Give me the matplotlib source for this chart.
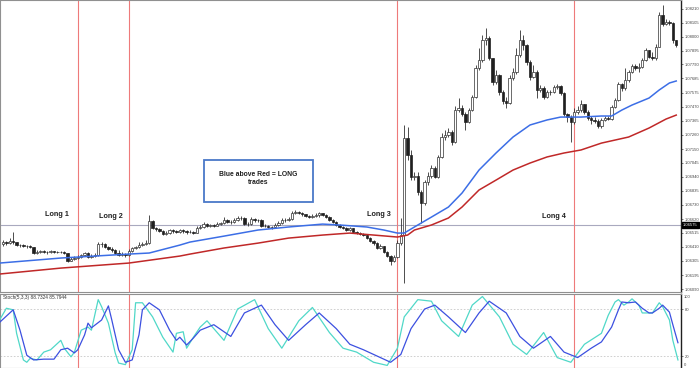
import matplotlib
matplotlib.use('Agg')
import matplotlib.pyplot as plt
from matplotlib.patches import Rectangle
import matplotlib.transforms as mtransforms

# ---------------- data ----------------
opens = [1.06431, 1.06446, 1.06438, 1.06454, 1.06446, 1.06423, 1.06423, 1.06416, 1.06416, 1.06408,
         1.06363, 1.06370, 1.06378, 1.06370, 1.06370, 1.06378, 1.06370, 1.06370, 1.06370, 1.06363,
         1.06302, 1.06317, 1.06325, 1.06333, 1.06348, 1.06363, 1.06333, 1.06340, 1.06348, 1.06431,
         1.06431, 1.06408, 1.06393, 1.06386, 1.06363, 1.06348, 1.06355, 1.06348, 1.06378, 1.06401,
         1.06408, 1.06423, 1.06431, 1.06438, 1.06605, 1.06552, 1.06544, 1.06529, 1.06507, 1.06514,
         1.06537, 1.06529, 1.06522, 1.06537, 1.06529, 1.06522, 1.06522, 1.06514, 1.06552, 1.06560,
         1.06582, 1.06567, 1.06575, 1.06567, 1.06582, 1.06590, 1.06613, 1.06597, 1.06597, 1.06613,
         1.06628, 1.06628, 1.06582, 1.06582, 1.06620, 1.06613, 1.06613, 1.06567, 1.06567, 1.06560,
         1.06560, 1.06575, 1.06590, 1.06613, 1.06613, 1.06620, 1.06666, 1.06673, 1.06666, 1.06658,
         1.06643, 1.06635, 1.06643, 1.06650, 1.06666, 1.06650, 1.06635, 1.06613, 1.06597, 1.06575,
         1.06560, 1.06552, 1.06537, 1.06552, 1.06522, 1.06514, 1.06507, 1.06499, 1.06476, 1.06454,
         1.06438, 1.06401, 1.06416, 1.06370, 1.06340, 1.06302, 1.06333, 1.06438, 1.06499, 1.07233,
         1.07105, 1.06938, 1.06946, 1.06825, 1.06741, 1.06900, 1.06946, 1.07006, 1.06938, 1.07090,
         1.07241, 1.07256, 1.07279, 1.07203, 1.07445, 1.07460, 1.07415, 1.07354, 1.07445, 1.07544,
         1.07763, 1.07824, 1.07975, 1.07990, 1.07839, 1.07657, 1.07710, 1.07582, 1.07514, 1.07498,
         1.07688, 1.07733, 1.07862, 1.07975, 1.07937, 1.07809, 1.07695, 1.07733, 1.07597, 1.07612,
         1.07544, 1.07582, 1.07582, 1.07619, 1.07627, 1.07574, 1.07415, 1.07392, 1.07354, 1.07430,
         1.07445, 1.07491, 1.07430, 1.07385, 1.07370, 1.07362, 1.07324, 1.07370, 1.07385, 1.07377,
         1.07468, 1.07521, 1.07642, 1.07612, 1.07672, 1.07733, 1.07778, 1.07763, 1.07771, 1.07824,
         1.07900, 1.07847, 1.07839, 1.07922, 1.08164, 1.08096, 1.08111, 1.08104, 1.07975]

closes = [1.06446, 1.06438, 1.06454, 1.06446, 1.06423, 1.06423, 1.06416, 1.06416, 1.06408, 1.06363,
          1.06370, 1.06378, 1.06370, 1.06370, 1.06378, 1.06370, 1.06370, 1.06370, 1.06363, 1.06302,
          1.06317, 1.06325, 1.06333, 1.06348, 1.06363, 1.06333, 1.06340, 1.06348, 1.06431, 1.06431,
          1.06408, 1.06393, 1.06386, 1.06363, 1.06348, 1.06355, 1.06348, 1.06378, 1.06401, 1.06408,
          1.06423, 1.06431, 1.06438, 1.06605, 1.06552, 1.06544, 1.06529, 1.06507, 1.06514, 1.06537,
          1.06529, 1.06522, 1.06537, 1.06529, 1.06522, 1.06522, 1.06514, 1.06552, 1.06560, 1.06582,
          1.06567, 1.06575, 1.06567, 1.06582, 1.06590, 1.06613, 1.06597, 1.06597, 1.06613, 1.06628,
          1.06628, 1.06582, 1.06582, 1.06620, 1.06613, 1.06613, 1.06567, 1.06567, 1.06560, 1.06560,
          1.06575, 1.06590, 1.06613, 1.06613, 1.06620, 1.06666, 1.06673, 1.06666, 1.06658, 1.06643,
          1.06635, 1.06643, 1.06650, 1.06666, 1.06650, 1.06635, 1.06613, 1.06597, 1.06575, 1.06560,
          1.06552, 1.06537, 1.06552, 1.06522, 1.06514, 1.06507, 1.06499, 1.06476, 1.06454, 1.06438,
          1.06401, 1.06416, 1.06370, 1.06340, 1.06302, 1.06333, 1.06438, 1.06499, 1.07233, 1.07105,
          1.06938, 1.06946, 1.06825, 1.06741, 1.06900, 1.06946, 1.07006, 1.06938, 1.07090, 1.07241,
          1.07256, 1.07279, 1.07203, 1.07445, 1.07460, 1.07415, 1.07354, 1.07445, 1.07544, 1.07763,
          1.07824, 1.07975, 1.07990, 1.07839, 1.07657, 1.07710, 1.07582, 1.07514, 1.07498, 1.07688,
          1.07733, 1.07862, 1.07975, 1.07937, 1.07809, 1.07695, 1.07733, 1.07597, 1.07612, 1.07544,
          1.07582, 1.07582, 1.07619, 1.07627, 1.07574, 1.07415, 1.07392, 1.07354, 1.07430, 1.07445,
          1.07491, 1.07430, 1.07385, 1.07370, 1.07362, 1.07324, 1.07370, 1.07385, 1.07377, 1.07468,
          1.07521, 1.07642, 1.07612, 1.07672, 1.07733, 1.07778, 1.07763, 1.07771, 1.07824, 1.07900,
          1.07847, 1.07839, 1.07922, 1.08164, 1.08096, 1.08111, 1.08104, 1.07975, 1.07937]

highs = [1.06461, 1.06454, 1.06476, 1.06522, 1.06446, 1.06431, 1.06431, 1.06423, 1.06423, 1.06408,
         1.06386, 1.06386, 1.06386, 1.06378, 1.06386, 1.06378, 1.06378, 1.06378, 1.06378, 1.06363,
         1.06333, 1.06340, 1.06348, 1.06355, 1.06370, 1.06370, 1.06355, 1.06363, 1.06446, 1.06446,
         1.06438, 1.06416, 1.06408, 1.06393, 1.06386, 1.06370, 1.06363, 1.06393, 1.06408, 1.06416,
         1.06446, 1.06446, 1.06461, 1.06650, 1.06613, 1.06560, 1.06552, 1.06537, 1.06529, 1.06544,
         1.06544, 1.06537, 1.06544, 1.06544, 1.06537, 1.06537, 1.06529, 1.06567, 1.06575, 1.06597,
         1.06590, 1.06582, 1.06582, 1.06597, 1.06597, 1.06635, 1.06620, 1.06613, 1.06628, 1.06643,
         1.06643, 1.06635, 1.06597, 1.06635, 1.06628, 1.06620, 1.06620, 1.06582, 1.06575, 1.06567,
         1.06590, 1.06605, 1.06628, 1.06628, 1.06635, 1.06681, 1.06688, 1.06681, 1.06673, 1.06658,
         1.06650, 1.06658, 1.06666, 1.06673, 1.06666, 1.06658, 1.06643, 1.06620, 1.06605, 1.06582,
         1.06567, 1.06560, 1.06560, 1.06552, 1.06529, 1.06522, 1.06514, 1.06507, 1.06484, 1.06461,
         1.06446, 1.06431, 1.06416, 1.06378, 1.06348, 1.06348, 1.06461, 1.06628, 1.07332, 1.07317,
         1.07143, 1.06976, 1.06976, 1.06840, 1.06915, 1.06976, 1.07029, 1.07021, 1.07105, 1.07271,
         1.07294, 1.07309, 1.07294, 1.07476, 1.07536, 1.07483, 1.07430, 1.07460, 1.07559, 1.07786,
         1.07915, 1.08013, 1.08066, 1.08005, 1.07839, 1.07748, 1.07718, 1.07597, 1.07544, 1.07710,
         1.07763, 1.07915, 1.08051, 1.08013, 1.07945, 1.07824, 1.07786, 1.07748, 1.07635, 1.07627,
         1.07597, 1.07597, 1.07635, 1.07642, 1.07635, 1.07582, 1.07423, 1.07407, 1.07460, 1.07476,
         1.07521, 1.07491, 1.07445, 1.07400, 1.07392, 1.07377, 1.07385, 1.07400, 1.07400, 1.07483,
         1.07536, 1.07657, 1.07650, 1.07763, 1.07748, 1.07794, 1.07794, 1.07801, 1.07839, 1.07915,
         1.07900, 1.07884, 1.07945, 1.08187, 1.08240, 1.08134, 1.08127, 1.08111, 1.07975]

lows = [1.06416, 1.06423, 1.06431, 1.06431, 1.06416, 1.06408, 1.06408, 1.06401, 1.06401, 1.06355,
        1.06355, 1.06363, 1.06363, 1.06355, 1.06363, 1.06363, 1.06363, 1.06363, 1.06355, 1.06295,
        1.06302, 1.06310, 1.06317, 1.06325, 1.06340, 1.06325, 1.06325, 1.06333, 1.06340, 1.06408,
        1.06401, 1.06386, 1.06370, 1.06355, 1.06340, 1.06340, 1.06333, 1.06340, 1.06370, 1.06393,
        1.06401, 1.06416, 1.06423, 1.06431, 1.06544, 1.06529, 1.06522, 1.06499, 1.06499, 1.06507,
        1.06514, 1.06514, 1.06514, 1.06514, 1.06507, 1.06514, 1.06507, 1.06514, 1.06544, 1.06552,
        1.06560, 1.06560, 1.06560, 1.06567, 1.06575, 1.06582, 1.06590, 1.06582, 1.06590, 1.06605,
        1.06613, 1.06575, 1.06567, 1.06575, 1.06597, 1.06597, 1.06560, 1.06560, 1.06552, 1.06544,
        1.06552, 1.06567, 1.06582, 1.06597, 1.06605, 1.06613, 1.06658, 1.06658, 1.06643, 1.06635,
        1.06628, 1.06628, 1.06635, 1.06635, 1.06643, 1.06628, 1.06605, 1.06590, 1.06567, 1.06552,
        1.06544, 1.06529, 1.06529, 1.06514, 1.06507, 1.06499, 1.06491, 1.06469, 1.06446, 1.06423,
        1.06393, 1.06393, 1.06363, 1.06333, 1.06272, 1.06295, 1.06325, 1.06423, 1.06136, 1.07067,
        1.06915, 1.06915, 1.06802, 1.06590, 1.06726, 1.06878, 1.06931, 1.06931, 1.06931, 1.07082,
        1.07218, 1.07241, 1.07180, 1.07195, 1.07430, 1.07400, 1.07294, 1.07347, 1.07438, 1.07536,
        1.07748, 1.07809, 1.07937, 1.07824, 1.07635, 1.07642, 1.07559, 1.07491, 1.07460, 1.07491,
        1.07672, 1.07718, 1.07847, 1.07900, 1.07786, 1.07672, 1.07688, 1.07536, 1.07582, 1.07529,
        1.07536, 1.07559, 1.07574, 1.07604, 1.07559, 1.07400, 1.07354, 1.07203, 1.07339, 1.07415,
        1.07430, 1.07415, 1.07370, 1.07339, 1.07347, 1.07309, 1.07309, 1.07362, 1.07370, 1.07370,
        1.07460, 1.07514, 1.07589, 1.07597, 1.07657, 1.07725, 1.07748, 1.07733, 1.07763, 1.07816,
        1.07839, 1.07824, 1.07824, 1.07922, 1.08081, 1.08089, 1.08089, 1.07952, 1.07922]

# moving averages (bar index, price)
ma_fast_idx = [-1, 17, 37, 43, 52, 55, 65, 75, 84, 94, 99, 107, 112, 116, 118, 121, 126, 131, 135,
               140, 145, 150, 155, 160, 164, 170, 176, 179, 182, 185, 190, 193, 196, 198]
ma_fast = [1.06287, 1.06325, 1.06355, 1.06363, 1.06423, 1.06446, 1.06491, 1.06537, 1.06560, 1.06582,
           1.06575, 1.06560, 1.06537, 1.06514, 1.06514, 1.06560, 1.06635, 1.06711, 1.06817, 1.06991,
           1.07120, 1.07241, 1.07332, 1.07370, 1.07392, 1.07392, 1.07400, 1.07400, 1.07445, 1.07483,
           1.07536, 1.07597, 1.07650, 1.07665]
ma_slow_idx = [-1, 17, 37, 52, 55, 65, 75, 84, 94, 102, 109, 116, 119, 121, 126, 131, 135, 140, 145,
               150, 155, 160, 165, 170, 176, 184, 190, 195, 198]
ma_slow = [1.06204, 1.06249, 1.06287, 1.06340, 1.06355, 1.06401, 1.06438, 1.06476, 1.06499, 1.06514,
           1.06499, 1.06484, 1.06499, 1.06537, 1.06575, 1.06628, 1.06711, 1.06840, 1.06915, 1.06991,
           1.07044, 1.07090, 1.07120, 1.07143, 1.07195, 1.07241, 1.07309, 1.07377, 1.07407]

# stochastic (bar index, value)
stoch_main_idx = [-1, 3, 5, 7, 9, 12, 15, 17, 19, 21, 22, 24, 25, 26, 29, 31, 32, 34, 36, 38, 40, 41,
                  43, 46, 49, 51, 52, 54, 56, 58,
                  62, 67, 71, 76, 80, 84, 89, 93, 98, 102, 106, 111, 114, 117, 120, 124, 127, 131,
                  136, 140, 143, 148, 152, 156, 161, 165, 169, 173,
                  176, 179, 181, 182, 184, 186, 188, 190, 191, 193, 194, 196, 197, 198.5]
stoch_main = [63, 79, 53, 21, 15, 16, 16, 28, 30, 24, 28, 47, 62, 56, 66, 84, 66, 28, 12, 15, 47, 79,
              88, 79, 53, 40, 44, 34, 43, 53,
              60, 45, 75, 85, 60, 40, 60, 75, 55, 35, 28, 18, 12, 22, 55, 80, 85, 70,
              50, 75, 90, 75, 45, 30, 45, 25, 18, 30,
              38, 57, 79, 89, 88, 89, 81, 75, 75, 81, 85, 76, 60, 37]
stoch_signal_idx = [-1, 1, 3, 4, 6, 7, 8, 10, 12, 14, 17, 18, 20, 21, 23, 25, 26, 28, 29, 31, 33, 34,
                    36, 38, 39, 41, 44, 47, 50, 51, 53, 54, 56, 58,
                    60, 65, 69, 74, 78, 82, 87, 91, 96, 100, 104, 109, 113, 116, 118, 122, 126, 129,
                    134, 138, 141, 146, 150, 154, 159, 163, 167, 171,
                    176, 178, 180, 181, 182.6, 184, 185, 187, 188, 189, 191, 193, 194, 196, 197, 198.5]
stoch_signal = [66, 81, 79, 49, 15, 12, 17, 15, 25, 28, 40, 30, 19, 25, 53, 57, 53, 92, 83, 62, 24, 11,
                9, 28, 88, 88, 70, 44, 25, 49, 51, 30, 44, 57,
                65, 40, 80, 92, 55, 30, 65, 82, 50, 30, 25, 12, 8, 30, 70, 92, 90, 65,
                45, 85, 96, 70, 35, 22, 50, 18, 12, 35,
                49, 72, 89, 92, 85, 89, 93, 85, 75, 75, 75, 88, 83, 66, 40, 15]

signal_bars = [22, 37, 116, 168]
signal_labels = ["Long 1", "Long 2", "Long 3", "Long 4"]
current_price = 1.06575
price_ticks = [1.08210, 1.08105, 1.08000, 1.07895, 1.07790, 1.07685, 1.07575, 1.07470, 1.07365,
               1.07260, 1.07150, 1.07045, 1.06940, 1.06835, 1.06730, 1.06620, 1.06515, 1.06410,
               1.06305, 1.06195, 1.06090]

# ---------------- figure ----------------
W, H = 700, 368
fig = plt.figure(figsize=(W / 100, H / 100), dpi=100)
fig.patch.set_facecolor('white')
FONT = ['Liberation Sans', 'DejaVu Sans']

ax = fig.add_axes([0, (H - 292) / H, 681 / W, 292 / H])
ax2 = fig.add_axes([0, 0, 681 / W, 74 / H])

n = len(closes)
for a in (ax, ax2):
    a.set_xlim(-0.88, 199.4)
    a.set_xticks([])
    for s in ('top', 'left', 'bottom'):
        a.spines[s].set_color('#909090')
        a.spines[s].set_linewidth(0.8)
    a.spines['right'].set_color('#202020')
    a.spines['right'].set_linewidth(1.0)
    a.yaxis.tick_right()
    a.tick_params(axis='y', direction='out', length=1.5, width=0.5, colors='#444444',
                  labelsize=3.0, pad=1.0)

ax.set_ylim(1.06068, 1.08278)
ax.set_yticks(price_ticks)
ax.set_yticklabels(["%.5f" % v for v in price_ticks])
for t in ax.get_yticklabels():
    t.set_fontfamily(FONT)

# candles
for i in range(n):
    o, c, h, l = opens[i], closes[i], highs[i], lows[i]
    ax.vlines(i, l, h, color='#303030', lw=0.6, zorder=2)
    bottom = min(o, c)
    height = abs(c - o)
    if c >= o:
        ax.add_patch(Rectangle((i - 0.36, bottom), 0.72, height, facecolor='white',
                               edgecolor='#303030', lw=0.5, zorder=2.1))
    else:
        ax.add_patch(Rectangle((i - 0.36, bottom), 0.72, height, facecolor='#202020',
                               edgecolor='#202020', lw=0.5, zorder=2.1))

# moving averages
ax.plot(ma_fast_idx, ma_fast, color='#3c6ee6', lw=1.1, zorder=3)
ax.plot(ma_slow_idx, ma_slow, color='#c02828', lw=1.1, zorder=3)

# current price line and label
ax.axhline(current_price, color='#a9a9bf', lw=0.8, zorder=1)
trans = mtransforms.blended_transform_factory(ax.transAxes, ax.transData)
ax.text(1.003, current_price, "%.5f" % current_price, transform=trans, fontsize=3.0,
        color='white', va='center', ha='left', family=FONT, zorder=5, clip_on=False,
        bbox=dict(boxstyle='square,pad=0.3', facecolor='black', edgecolor='black'))

# signal vertical lines
for b in signal_bars:
    ax.axvline(b, color='#ee7a7a', lw=0.8, zorder=1.5)
    ax2.axvline(b, color='#ee7a7a', lw=0.8, zorder=1.5)

# Long labels (figure pixel positions)
label_px = [(57, 214), (111, 217), (379, 214), (554, 216)]
for txt, (px, py) in zip(signal_labels, label_px):
    fig.text(px / W, 1 - py / H, txt, fontsize=5.2, fontweight='bold', color='#202020',
             ha='center', va='center', family=FONT)

# note box
fig.patches.append(Rectangle((204 / W, 1 - 202 / H), 109 / W, 42 / H, transform=fig.transFigure,
                             facecolor='white', edgecolor='#4a78c8', lw=1.3, zorder=6))
fig.text(258 / W, 1 - 174 / H, "Blue above Red = LONG", fontsize=4.9, fontweight='bold',
         color='#202020', ha='center', va='center', family=FONT, zorder=7)
fig.text(258 / W, 1 - 183 / H, "trades", fontsize=4.9, fontweight='bold',
         color='#202020', ha='center', va='center', family=FONT, zorder=7)

# stochastic panel
ax2.set_ylim(4.7, 99.2)
ax2.set_yticks([80, 20])
ax2.set_yticklabels(['80', '20'])
for t in ax2.get_yticklabels():
    t.set_fontfamily(FONT)
for lvl in (80, 20):
    ax2.axhline(lvl, color='#c8c8c8', lw=0.6, ls=(0, (2, 2)), zorder=1)
ax2.plot(stoch_signal_idx, stoch_signal, color='#50d8c8', lw=0.9, zorder=3)
ax2.plot(stoch_main_idx, stoch_main, color='#3c50e0', lw=0.9, zorder=3.5)
fig.text(3 / W, 1 - 297 / H, "Stoch(5,3,3) 88.7324 85.7944", fontsize=3.4, color='#333333',
         ha='left', va='center', family=FONT)
fig.text(684 / W, 1 - 297 / H, "100", fontsize=3.0, color='#444444', ha='left', va='center', family=FONT)
fig.text(684 / W, 1 - 365 / H, "0", fontsize=3.0, color='#444444', ha='left', va='center', family=FONT)

fig.savefig('out.png', dpi=100, facecolor='white')
